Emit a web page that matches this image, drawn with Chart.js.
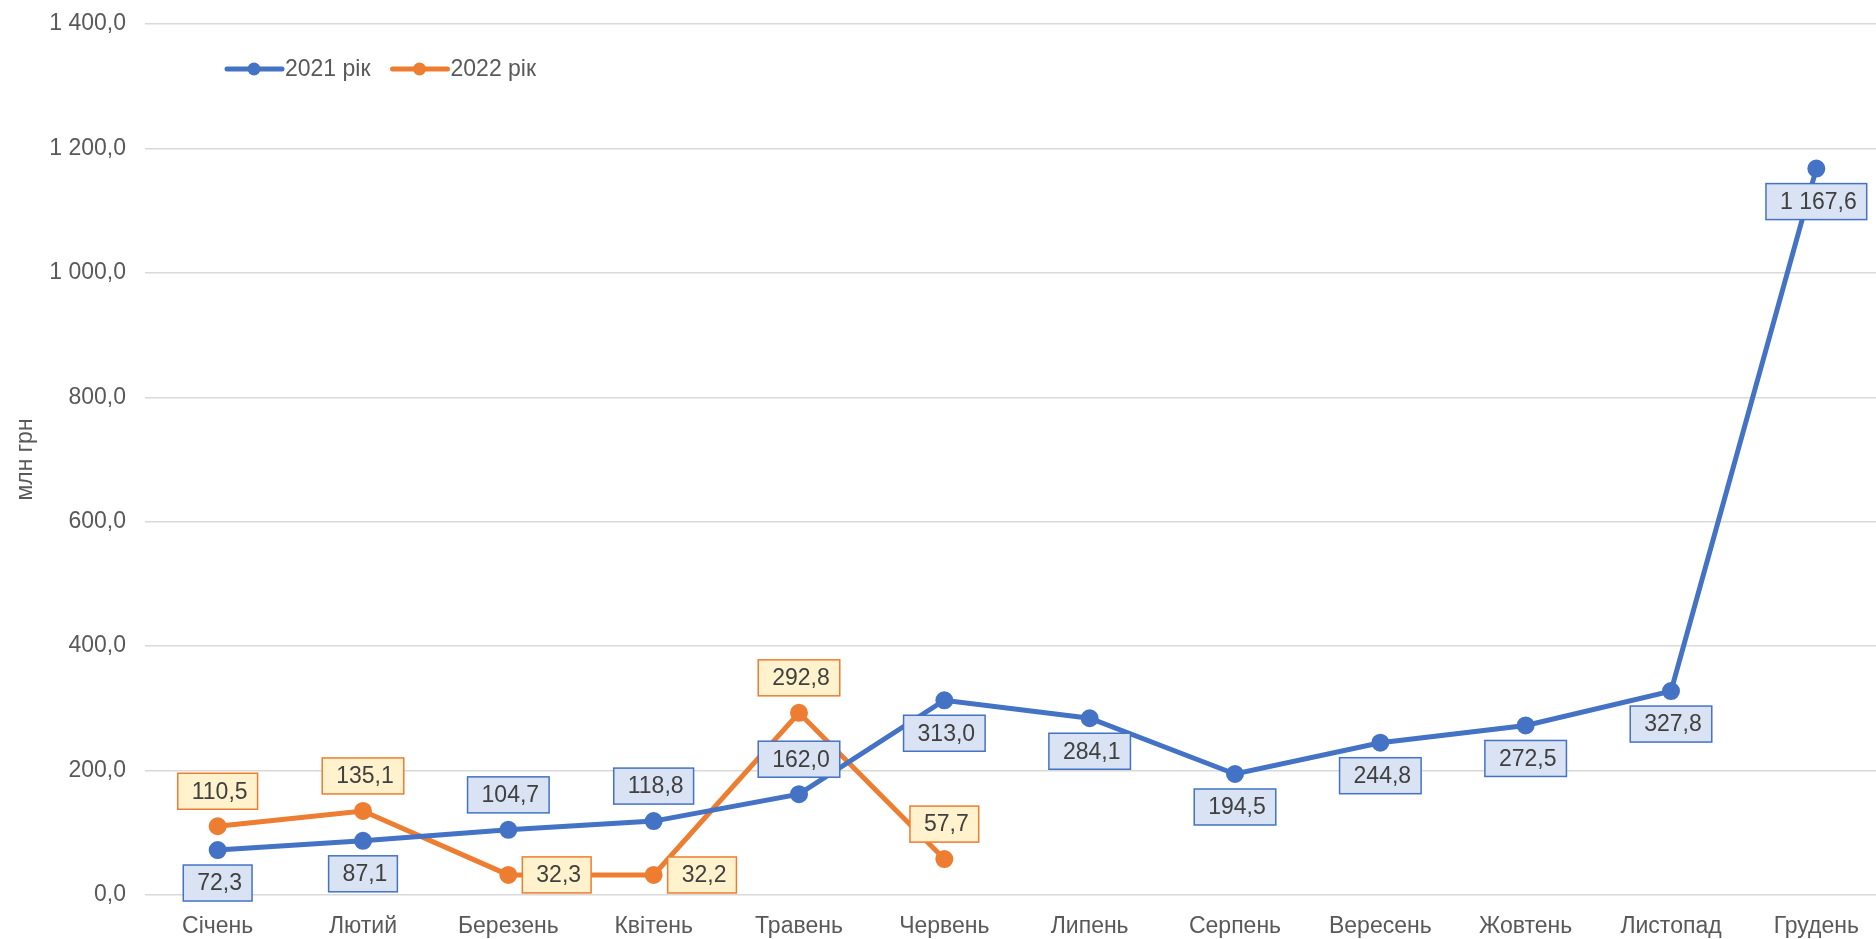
<!DOCTYPE html>
<html lang="uk">
<head>
    <meta charset="UTF-8">
    <title>Надходження, млн грн</title>
    <script src="https://cdn.jsdelivr.net/npm/chart.js"></script>
    <style>
        html, body { margin: 0; padding: 0; background: #ffffff; overflow: hidden; width: 1876px; height: 939px; }
        #mainChart { position: absolute; left: 0; top: 0; }
    </style>
</head>
<body>
    <!-- plot runs a little past the right edge, like the source picture -->
    <canvas id="mainChart" width="1889" height="939"></canvas>

    <script>
        // Data
        const months = ['Січень', 'Лютий', 'Березень', 'Квітень', 'Травень', 'Червень',
                        'Липень', 'Серпень', 'Вересень', 'Жовтень', 'Листопад', 'Грудень'];
        const values2021 = [72.3, 87.1, 104.7, 118.8, 162.0, 313.0, 284.1, 194.5, 244.8, 272.5, 327.8, 1167.6];
        const values2022 = [110.5, 135.1, 32.3, 32.2, 292.8, 57.7];
        const yTicks = [0, 200, 400, 600, 800, 1000, 1200, 1400];

        // where each value label sits relative to its point
        const labelSide2021 = ['below', 'below', 'above', 'above', 'above', 'below', 'below', 'below', 'below', 'below', 'below', 'below'];
        const labelSide2022 = ['above', 'above', 'right', 'right', 'above', 'above'];

        const FONT = '"Liberation Sans", Arial, sans-serif';
        const TEXT = '#595959';

        function fmt(v) {
            const parts = v.toFixed(1).split('.');
            return parts[0].replace(/\B(?=(\d{3})+(?!\d))/g, ' ') + ',' + parts[1];
        }

        function noScalePadding(scale) {
            scale.paddingTop = 0;
            scale.paddingBottom = 0;
            scale.paddingLeft = 0;
            scale.paddingRight = 0;
        }

        // Boxed value labels (Excel style callouts)
        const valueLabels = {
            id: 'valueLabels',
            afterDatasetsDraw(chart) {
                const ctx = chart.ctx;
                ctx.save();
                ctx.font = '23px ' + FONT;
                ctx.textBaseline = 'middle';
                ctx.textAlign = 'center';
                chart.data.datasets.forEach((ds, di) => {
                    const meta = chart.getDatasetMeta(di);
                    meta.data.forEach((pt, i) => {
                        const txt = fmt(ds.data[i]);
                        const w = ctx.measureText(txt).width + 24;
                        const h = 36;
                        const side = ds.labelSide[i];
                        let cx = pt.x, cy = pt.y;
                        if (side === 'below') cy += 33;
                        if (side === 'above') cy -= 35;
                        if (side === 'right') cx += 14 + w / 2;
                        ctx.fillStyle = ds.labelFill;
                        ctx.fillRect(cx - w / 2, cy - h / 2, w, h);
                        ctx.lineWidth = 1.5;
                        ctx.strokeStyle = ds.borderColor;
                        ctx.strokeRect(cx - w / 2, cy - h / 2, w, h);
                        ctx.fillStyle = '#404040';
                        ctx.fillText(txt, cx + 2, cy + 1);
                    });
                });
                ctx.restore();
            }
        };

        // Legend inside the plot, top left
        const innerLegend = {
            id: 'innerLegend',
            afterDraw(chart) {
                const ctx = chart.ctx;
                let x = chart.chartArea.left + 82;
                const y = chart.chartArea.top + 45;
                ctx.save();
                ctx.font = '23px ' + FONT;
                ctx.textBaseline = 'middle';
                ctx.textAlign = 'left';
                chart.data.datasets.forEach(ds => {
                    ctx.strokeStyle = ds.borderColor;
                    ctx.lineWidth = 5;
                    ctx.lineCap = 'round';
                    ctx.beginPath();
                    ctx.moveTo(x, y);
                    ctx.lineTo(x + 55, y);
                    ctx.stroke();
                    ctx.fillStyle = ds.borderColor;
                    ctx.beginPath();
                    ctx.arc(x + 27, y, 6.5, 0, Math.PI * 2);
                    ctx.fill();
                    ctx.fillStyle = TEXT;
                    ctx.fillText(ds.label, x + 58, y + 1);
                    x += 58 + ctx.measureText(ds.label).width + 22;
                });
                ctx.restore();
            }
        };

        function initializeChart() {
            const ctx = document.getElementById('mainChart').getContext('2d');
            new Chart(ctx, {
                type: 'line',
                data: {
                    labels: months,
                    datasets: [{
                        label: '2021 рік',
                        data: values2021,
                        borderColor: '#4472C4',
                        backgroundColor: '#4472C4',
                        labelFill: '#DAE3F3',
                        labelSide: labelSide2021,
                        borderWidth: 5,
                        pointRadius: 6.5,
                        pointHoverRadius: 6.5,
                        tension: 0
                    }, {
                        label: '2022 рік',
                        data: values2022,
                        borderColor: '#ED7D31',
                        backgroundColor: '#ED7D31',
                        labelFill: '#FFF2CC',
                        labelSide: labelSide2022,
                        borderWidth: 5,
                        pointRadius: 6.5,
                        pointHoverRadius: 6.5,
                        tension: 0
                    }]
                },
                options: {
                    responsive: false,
                    animation: false,
                    devicePixelRatio: 1,
                    layout: {
                        autoPadding: false,
                        padding: { top: 24, right: 0, bottom: 0, left: 0 }
                    },
                    plugins: {
                        legend: { display: false },
                        tooltip: { enabled: false }
                    },
                    scales: {
                        x: {
                            offset: true,
                            grid: { display: false, drawTicks: false },
                            border: { display: false },
                            ticks: {
                                color: TEXT,
                                font: { family: FONT, size: 23 },
                                padding: 18,
                                maxRotation: 0,
                                autoSkip: false
                            },
                            afterFit(scale) { scale.height = 44; noScalePadding(scale); }
                        },
                        y: {
                            min: 0,
                            max: 1400,
                            afterBuildTicks(scale) {
                                scale.ticks = yTicks.map(v => ({ value: v }));
                            },
                            grid: { color: '#D9D9D9', lineWidth: 1.5, drawTicks: false },
                            border: { display: false },
                            ticks: {
                                color: TEXT,
                                font: { family: FONT, size: 23 },
                                padding: 19,
                                callback: v => fmt(v)
                            },
                            title: {
                                display: true,
                                text: 'млн грн',
                                color: TEXT,
                                font: { family: FONT, size: 23 },
                                padding: { top: 12, bottom: 0 }
                            },
                            afterFit(scale) { scale.width = 145; noScalePadding(scale); }
                        }
                    }
                },
                plugins: [valueLabels, innerLegend]
            });
        }

        initializeChart();
    </script>
</body>
</html>
